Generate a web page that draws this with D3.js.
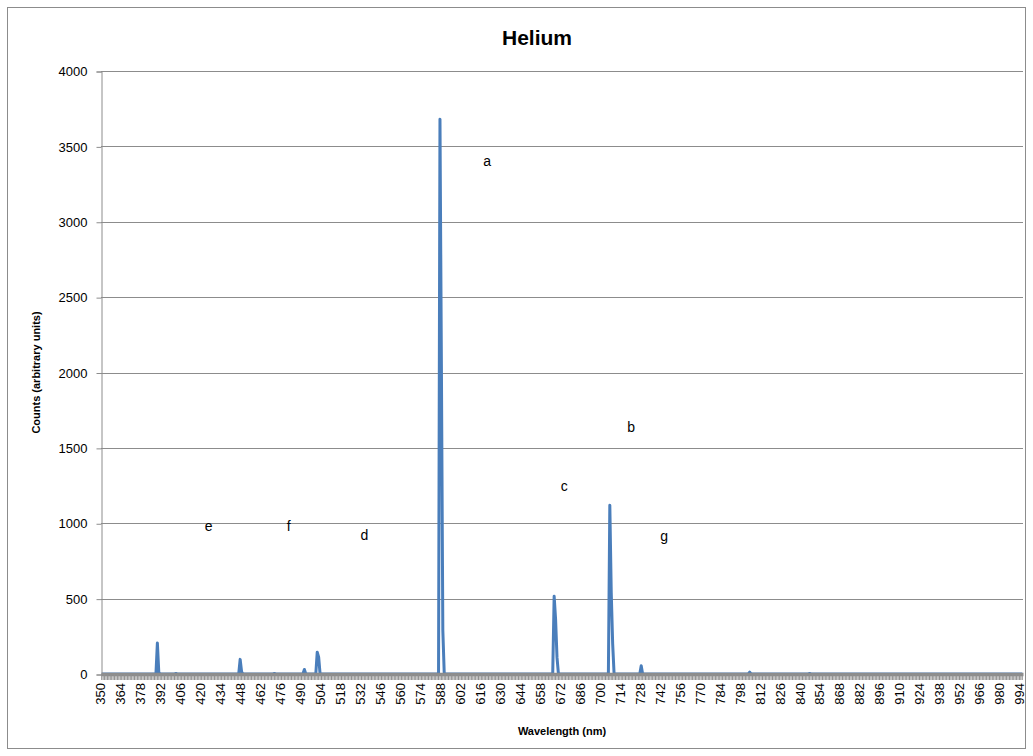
<!DOCTYPE html>
<html>
<head>
<meta charset="utf-8">
<script src="https://cdn.jsdelivr.net/npm/d3@7"></script>
<style>
  body { margin: 0; background: #fff; }
  text { font-family: "Liberation Sans", Arial, sans-serif; }
</style>
</head>
<body>
<div id="chart"></div>
<script>
const fig_width = 1033
const fig_height = 756

// wavelength categories, 1 nm apart
const wavelengths = d3.range(350, 996)

// lines, every other wavelength sits on zero counts
const line_wavelengths = [389, 390, 402, 447, 448, 471, 492, 501, 502, 587, 588, 589, 667, 668, 669, 706, 707, 708, 728, 804, 846]
const line_counts      = [205,  10,   3,  97,  15,   3,  30, 145, 112, 3680, 2050, 290, 515, 365, 110, 1120, 540, 200, 55, 12, 3]

// text labels as they sit on the chart (wavelength, counts)
const note_text = ['a', 'b', 'c', 'd', 'e', 'f', 'g']
const note_wavelength = [620, 721, 674, 534, 425, 481, 744]
const note_counts = [3395, 1631, 1240, 915, 975, 975, 908]

const y_ticks = [0, 500, 1000, 1500, 2000, 2500, 3000, 3500, 4000]
const label_every = 14

const countLookup = {}
line_wavelengths.forEach((w, i) => countLookup[w] = line_counts[i])
const spectrum = wavelengths.map(w => ({w: w, c: countLookup[w] || 0}))

const margin = {left: 101, right: 10, top: 71, bottom: 82}
const plot_w = fig_width - margin.left - margin.right
const plot_h = fig_height - margin.top - margin.bottom

let svg = d3.select('#chart')
    .append('svg')
    .attr('width', fig_width)
    .attr('height', fig_height)

// outer chart border
svg.append('rect')
    .attr('x', 7.5).attr('y', 7.5)
    .attr('width', fig_width - 15).attr('height', fig_height - 15)
    .attr('fill', 'none')
    .attr('stroke', '#8c8c8c')

let xScale = d3.scaleBand()
    .domain(wavelengths)
    .range([margin.left, margin.left + plot_w])

let yScale = d3.scaleLinear()
    .domain([0, 4000])
    .range([margin.top + plot_h, margin.top])

let xMid = w => xScale(w) + xScale.bandwidth() / 2

// horizontal gridlines
svg.append('g')
    .selectAll('line')
    .data(y_ticks.slice(1))
    .join('line')
    .attr('x1', margin.left)
    .attr('x2', margin.left + plot_w)
    .attr('y1', d => Math.round(yScale(d)) + 0.5)
    .attr('y2', d => Math.round(yScale(d)) + 0.5)
    .attr('stroke', '#8c8c8c')

// spectrum line (drawn before the x axis so the axis covers the zero baseline)
svg.append('path')
    .datum(spectrum)
    .attr('fill', 'none')
    .attr('stroke', '#4a7ebb')
    .attr('stroke-width', 3)
    .attr('stroke-linejoin', 'round')
    .attr('d', d3.line().x(d => xMid(d.w)).y(d => yScale(d.c)))

// y axis
let yAxis = svg.append('g')
    .attr('transform', `translate(${margin.left + 0.5},0.5)`)
    .call(d3.axisLeft(yScale).tickValues(y_ticks).tickSize(5).tickPadding(9).tickFormat(d3.format('d')))
yAxis.select('.domain').attr('stroke', '#8c8c8c')
yAxis.selectAll('.tick line').attr('stroke', '#8c8c8c')
yAxis.selectAll('.tick text')
    .attr('font-size', '13px')
    .attr('fill', '#000')
    .style('font-family', '"Liberation Sans", Arial, sans-serif')

// x axis: a mark for every category, a label every 14th
let xBase = Math.round(yScale(0))
let xTickMarks = svg.append('g')
    .attr('transform', `translate(0,${xBase})`)
    .call(d3.axisBottom(xScale).tickSize(6).tickSizeOuter(0).tickFormat(''))
xTickMarks.selectAll('.tick line').attr('stroke', '#8f8f8f')
xTickMarks.select('.domain').attr('stroke', '#8c8c8c').attr('stroke-width', 3.5)

let xLabels = svg.append('g')
    .attr('transform', `translate(0,${xBase})`)
    .call(d3.axisBottom(xScale)
        .tickValues(wavelengths.filter((w, i) => i % label_every === 0))
        .tickSize(0))
xLabels.select('.domain').remove()
xLabels.selectAll('.tick text')
    .attr('font-size', '13px')
    .attr('fill', '#000')
    .style('font-family', '"Liberation Sans", Arial, sans-serif')
    .attr('text-anchor', 'end')
    .attr('dominant-baseline', 'middle')
    .attr('transform', 'rotate(-90)')
    .attr('x', -9)
    .attr('y', 0)
    .attr('dy', null)

// letter notes
svg.append('g')
    .selectAll('text')
    .data(note_text)
    .join('text')
    .attr('x', (d, i) => xMid(note_wavelength[i]))
    .attr('y', (d, i) => yScale(note_counts[i]))
    .attr('text-anchor', 'middle')
    .attr('dominant-baseline', 'middle')
    .attr('font-size', '14px')
    .text(d => d)

// titles
svg.append('text')
    .attr('x', 537).attr('y', 45)
    .attr('text-anchor', 'middle')
    .attr('font-size', '21px')
    .attr('font-weight', 'bold')
    .text('Helium')

svg.append('text')
    .attr('x', margin.left + plot_w / 2).attr('y', 735)
    .attr('text-anchor', 'middle')
    .attr('font-size', '11px')
    .attr('font-weight', 'bold')
    .text('Wavelength (nm)')

svg.append('text')
    .attr('transform', `translate(40,${margin.top + plot_h / 2}) rotate(-90)`)
    .attr('text-anchor', 'middle')
    .attr('font-size', '11px')
    .attr('font-weight', 'bold')
    .text('Counts (arbitrary units)')
</script>
</body>
</html>
